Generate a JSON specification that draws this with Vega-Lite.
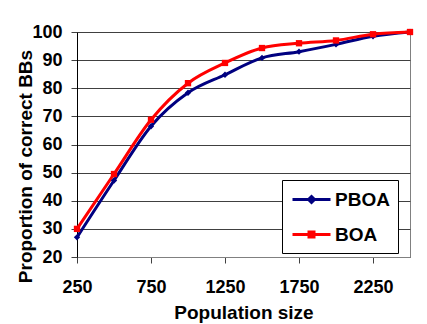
{
  "$schema": "https://vega.github.io/schema/vega-lite/v6.json",
  "autosize": "none",
  "padding": {"left": 77, "top": 32, "right": 17, "bottom": 67},
  "width": 333,
  "height": 225,
  "background": "white",
  "config": {
    "font": "Liberation Sans",
    "view": {"stroke": "#808080", "strokeWidth": 1}
  },
  "data": {
    "values": [
      {"size": 250, "series": "PBOA", "value": 27.0},
      {"size": 500, "series": "PBOA", "value": 47.2},
      {"size": 750, "series": "PBOA", "value": 66.5},
      {"size": 1000, "series": "PBOA", "value": 78.4},
      {"size": 1250, "series": "PBOA", "value": 84.8},
      {"size": 1500, "series": "PBOA", "value": 90.8},
      {"size": 1750, "series": "PBOA", "value": 93.0},
      {"size": 2000, "series": "PBOA", "value": 95.6},
      {"size": 2250, "series": "PBOA", "value": 98.5},
      {"size": 2500, "series": "PBOA", "value": 100.0},
      {"size": 250, "series": "BOA", "value": 30.0},
      {"size": 500, "series": "BOA", "value": 49.5},
      {"size": 750, "series": "BOA", "value": 68.8},
      {"size": 1000, "series": "BOA", "value": 81.8},
      {"size": 1250, "series": "BOA", "value": 89.0},
      {"size": 1500, "series": "BOA", "value": 94.3},
      {"size": 1750, "series": "BOA", "value": 96.0},
      {"size": 2000, "series": "BOA", "value": 97.0},
      {"size": 2250, "series": "BOA", "value": 99.2},
      {"size": 2500, "series": "BOA", "value": 100.0}
    ]
  },
  "encoding": {
    "x": {
      "field": "size",
      "type": "quantitative",
      "scale": {"domain": [250, 2500], "nice": false, "zero": false},
      "axis": {
        "values": [250, 750, 1250, 1750, 2250],
        "format": "d",
        "grid": false,
        "labelFlush": false,
        "labelOverlap": false,
        "labelBound": false,
        "domainColor": "#808080",
        "tickColor": "#404040",
        "tickSize": 6,
        "labelFont": "Liberation Sans",
        "labelFontSize": 18,
        "labelFontWeight": "bold",
        "labelColor": "black",
        "labelPadding": 15,
        "title": "Population size",
        "titleFont": "Liberation Sans",
        "titleFontSize": 19,
        "titleFontWeight": "bold",
        "titleColor": "black",
        "titleBaseline": "alphabetic",
        "titleY": 61
      }
    },
    "y": {
      "field": "value",
      "type": "quantitative",
      "scale": {"domain": [20, 100], "nice": false, "zero": false},
      "axis": {
        "values": [20, 30, 40, 50, 60, 70, 80, 90, 100],
        "grid": true,
        "gridColor": "#404040",
        "gridWidth": 1,
        "labelFlush": false,
        "labelOverlap": false,
        "domainColor": "black",
        "tickColor": "#404040",
        "tickSize": 6,
        "labelFont": "Liberation Sans",
        "labelFontSize": 18,
        "labelFontWeight": "bold",
        "labelColor": "black",
        "labelPadding": 9,
        "title": "Proportion of correct BBs",
        "titleFont": "Liberation Sans",
        "titleFontSize": 19,
        "titleFontWeight": "bold",
        "titleColor": "black",
        "titleAngle": -90,
        "titleBaseline": "alphabetic",
        "titleAlign": "center",
        "titleX": -46,
        "titleY": 134
      }
    },
    "color": {
      "field": "series",
      "type": "nominal",
      "scale": {"domain": ["PBOA", "BOA"], "range": ["#000080", "#FF0000"]}
    }
  },
  "layer": [
    {
      "mark": {"type": "line", "interpolate": "monotone", "strokeWidth": 3},
      "encoding": {
        "color": {
          "field": "series",
          "type": "nominal",
          "scale": {"domain": ["PBOA", "BOA"], "range": ["#000080", "#FF0000"]},
          "legend": {
            "title": null,
            "orient": "none",
            "legendX": 205,
            "legendY": 148,
            "fillColor": "white",
            "strokeColor": "black",
            "padding": 8,
            "symbolSize": 400,
            "symbolOffset": 10,
            "symbolStrokeWidth": 3,
            "labelFont": "Liberation Sans",
            "labelFontSize": 19,
            "labelFontWeight": "bold",
            "labelColor": "black",
            "labelOffset": 12,
            "rowPadding": 13,
            "encode": {
              "symbols": {
                "update": {
                  "shape": {"signal": "datum.value === 'PBOA' ? 'M-1.9,0H1.9M0,-0.3L0.3,0L0,0.3L-0.3,0Z' : 'M-1.9,0H1.9M-0.25,-0.25H0.25V0.25H-0.25Z'"},
                  "fill": {"signal": "datum.value === 'PBOA' ? '#000080' : '#FF0000'"},
                  "fillOpacity": {"value": 1}
                }
              }
            }
          }
        }
      }
    },
    {
      "transform": [{"filter": "datum.series === 'PBOA'"}],
      "mark": {"type": "point", "filled": true, "size": 40, "opacity": 1, "shape": "diamond"}
    },
    {
      "transform": [{"filter": "datum.series === 'BOA'"}],
      "mark": {"type": "point", "filled": true, "size": 40, "opacity": 1, "shape": "square"}
    }
  ]
}
